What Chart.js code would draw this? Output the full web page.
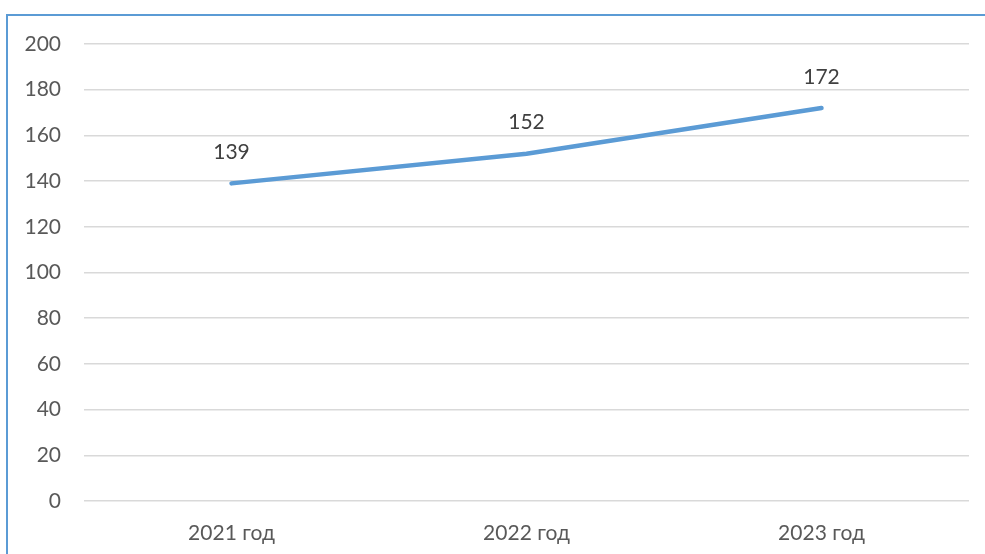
<!DOCTYPE html>
<html>
<head>
<meta charset="utf-8">
<script src="https://cdn.jsdelivr.net/npm/chart.js@4"></script>
<style>
  html, body { margin: 0; padding: 0; background: #fff; overflow: hidden; }
  #wrap { position: relative; width: 985px; height: 554px; overflow: hidden; }
  #frame { position: absolute; left: 6px; top: 14px; width: 1100px; height: 700px; border: 2px solid #5b9bd5; }
  canvas { position: absolute; left: 0; top: 0; }
</style>
</head>
<body>
<div id="wrap">
  <div id="frame"></div>
  <canvas id="lineChart" width="985" height="554"></canvas>
</div>
<script>
// данные графика
const years = ['2021 год', '2022 год', '2023 год'];
const values = [139, 152, 172];

const fontFamily = 'Lato, "Open Sans", sans-serif';

// подписи значений над точками
const valueLabels = {
    id: 'valueLabels',
    afterDatasetsDraw(chart) {
        const ctx = chart.ctx;
        const meta = chart.getDatasetMeta(0);
        ctx.save();
        ctx.fillStyle = '#404040';
        ctx.font = '21px ' + fontFamily;
        ctx.textAlign = 'center';
        ctx.textBaseline = 'middle';
        meta.data.forEach((pt, i) => {
            ctx.fillText(values[i], pt.x, pt.y - 31);
        });
        ctx.restore();
    }
};

document.addEventListener('DOMContentLoaded', () => {
    const ctx = document.getElementById('lineChart').getContext('2d');
    new Chart(ctx, {
        type: 'line',
        data: {
            labels: years,
            datasets: [{
                data: values,
                borderColor: '#5b9bd5',
                borderWidth: 4.5,
                borderCapStyle: 'round',
                pointRadius: 0,
                fill: false,
                tension: 0
            }]
        },
        options: {
            responsive: false,
            animation: false,
            layout: { padding: { left: 0, right: 16, top: 44, bottom: 0 } },
            plugins: { legend: { display: false }, tooltip: { enabled: false } },
            scales: {
                x: {
                    offset: true,
                    grid: { display: false },
                    border: { display: false },
                    ticks: { color: '#595959', font: { size: 21, family: fontFamily }, padding: 12, maxRotation: 0 },
                    afterFit(scale) { scale.height = 53; }
                },
                y: {
                    min: 0,
                    max: 200,
                    ticks: { stepSize: 20, color: '#595959', font: { size: 21, family: fontFamily }, padding: 23 },
                    grid: { color: '#d9d9d9', lineWidth: 1.5, drawTicks: false },
                    border: { display: false },
                    afterFit(scale) { scale.width = 84; }
                }
            }
        },
        plugins: [valueLabels]
    });
});
</script>
</body>
</html>
